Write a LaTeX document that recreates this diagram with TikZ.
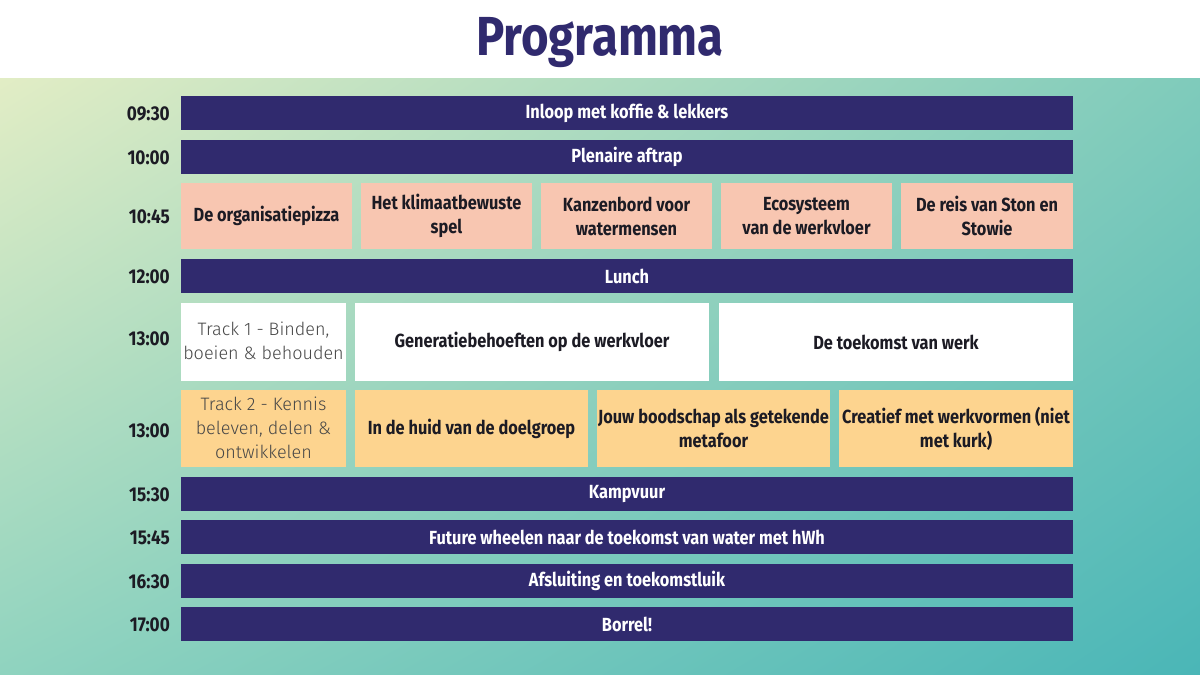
\documentclass[tikz,border=0pt]{standalone}
\usepackage{fontspec}
\usetikzlibrary{shadings}
\setmainfont{Fira Sans}[FakeStretch=0.86]
\newfontfamily\lightfont{Fira Sans Light}[FakeStretch=1.0]
\definecolor{navy}{HTML}{302A6E}
\definecolor{salmon}{HTML}{F8C6B1}
\definecolor{apricot}{HTML}{FDD48F}
\definecolor{ink}{HTML}{1C1B24}
\definecolor{gtl}{HTML}{E2EDC5}
\definecolor{gtr}{HTML}{7FCBBB}
\definecolor{gbl}{HTML}{8FD3BF}
\definecolor{gbr}{HTML}{4AB6B7}
\tikzset{
  cell/.style={rectangle, inner sep=0pt, align=center, font=\bfseries\fontsize{19}{24}\selectfont},
  bar/.style={cell, fill=navy, text=white, minimum width=892pt, minimum height=34pt},
  wshop/.style={cell, fill=salmon, text=ink, minimum height=66pt},
  trackw/.style={cell, fill=white, text=ink, minimum height=78pt},
  tracko/.style={cell, fill=apricot, text=ink, minimum height=77pt},
  tlabel/.style={rectangle, inner sep=0pt, align=center, font=\lightfont\fontsize{18}{24}\selectfont, text=black!72},
  time/.style={anchor=east, inner sep=0pt, font=\bfseries\fontsize{20}{24}\selectfont, text=ink},
}
\begin{document}
\begin{tikzpicture}[x=1pt, y=-1pt]
\useasboundingbox (0,0) rectangle (1200,675);
\fill[white] (0,0) rectangle (1200,78);
\shade[upper left=gtl, upper right=gtr, lower left=gbl, lower right=gbr] (0,78) rectangle (1200,675);
\node[font=\bfseries\fontsize{55}{60}\selectfont, text=navy, inner sep=0pt] (title) at (600,43) {Programma};

% times
\node[time] (t1) at (170,114) {09:30};
\node[time] (t2) at (170,158) {10:00};
\node[time] (t3) at (170,217) {10:45};
\node[time] (t4) at (170,277) {12:00};
\node[time] (t5) at (170,339) {13:00};
\node[time] (t6) at (170,431) {13:00};
\node[time] (t7) at (170,495) {15:30};
\node[time] (t8) at (170,538) {15:45};
\node[time] (t9) at (170,582) {16:30};
\node[time] (t10) at (170,625) {17:00};

% bars
\node[bar] (inloop) at (627,113) {Inloop met koffie \& lekkers};
\node[bar] (plenair) at (627,157) {Plenaire aftrap};
\node[bar] (lunch) at (627,276) {Lunch};
\node[bar] (kamp) at (627,494) {Kampvuur};
\node[bar] (future) at (627,537) {Future wheelen naar de toekomst van water met hWh};
\node[bar] (afsl) at (627,581) {Afsluiting en toekomstluik};
\node[bar] (borrel) at (627,624) {Borrel!};

% workshops 10:45
\node[wshop, minimum width=171pt] (w1) at (266.5,216) {De organisatiepizza};
\node[wshop, minimum width=171pt] (w2) at (446.5,216) {Het klimaatbewuste\\spel};
\node[wshop, minimum width=171pt] (w3) at (626.5,216) {Kanzenbord voor\\watermensen};
\node[wshop, minimum width=171pt] (w4) at (806.5,216) {Ecosysteem\\van de werkvloer};
\node[wshop, minimum width=172pt] (w5) at (987,216) {De reis van Ston en\\Stowie};

% track 1
\node[trackw, minimum width=165pt] (tr1) at (263.5,342) {};
\node[tlabel] (tr1l) at (263.5,341) {Track 1 - Binden,\\boeien \& behouden};
\node[trackw, minimum width=354pt] (a1) at (532,342) {Generatiebehoeften op de werkvloer};
\node[trackw, minimum width=354pt] (a2) at (896,342) {De toekomst van werk};

% track 2
\node[tracko, minimum width=165pt] (tr2) at (263.5,428.5) {};
\node[tlabel] (tr2l) at (263.5,428) {Track 2 - Kennis\\beleven, delen \&\\ontwikkelen};
\node[tracko, minimum width=233pt] (b1) at (471.5,428.5) {In de huid van de doelgroep};
\node[tracko, minimum width=233pt] (b2) at (713.5,428.5) {Jouw boodschap als getekende\\metafoor};
\node[tracko, minimum width=234pt] (b3) at (956,428.5) {Creatief met werkvormen (niet\\met kurk)};
\end{tikzpicture}
\end{document}
